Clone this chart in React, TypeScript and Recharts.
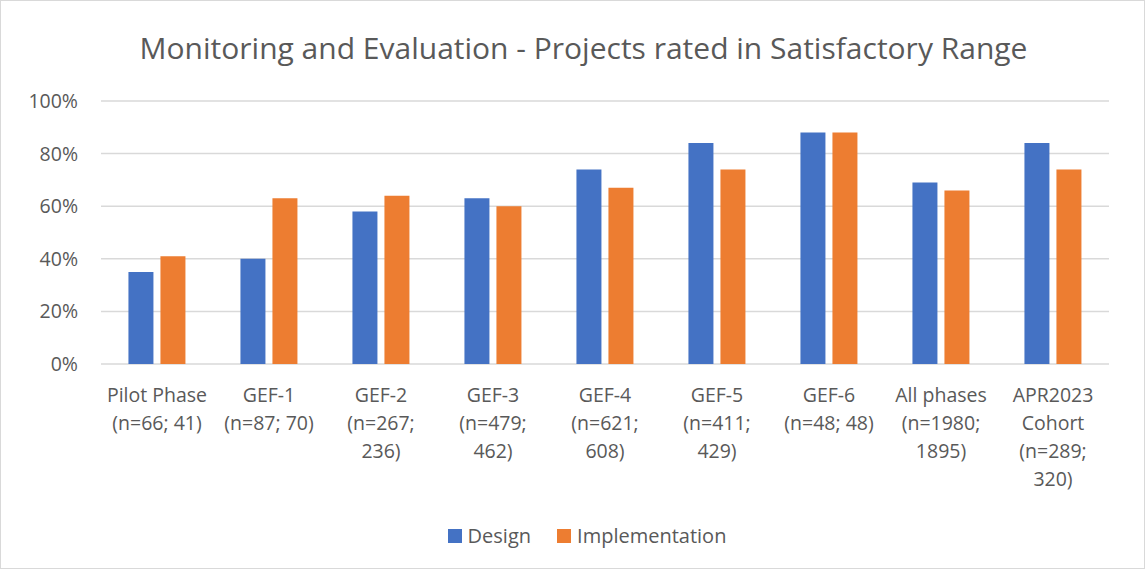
import React from "react";
import { BarChart, Bar, XAxis, YAxis, CartesianGrid } from "recharts";

const categories = [
  "Pilot Phase\n(n=66; 41)",
  "GEF-1\n(n=87; 70)",
  "GEF-2\n(n=267;\n236)",
  "GEF-3\n(n=479;\n462)",
  "GEF-4\n(n=621;\n608)",
  "GEF-5\n(n=411;\n429)",
  "GEF-6\n(n=48; 48)",
  "All phases\n(n=1980;\n1895)",
  "APR2023\nCohort\n(n=289;\n320)",
];
const designValues = [35, 40, 58, 63, 74, 84, 88, 69, 84];
const implementationValues = [41, 63, 64, 60, 67, 74, 88, 66, 74];
const yTicks = [0, 20, 40, 60, 80, 100];
const seriesNames = ["Design", "Implementation"];
const seriesColors = ["#4472C4", "#ED7D31"];

const data = categories.map((c, i) => ({
  name: c,
  Design: designValues[i],
  Implementation: implementationValues[i],
}));

const FONT = "'Open Sans', sans-serif";
const TEXT = "#595959";

const XTick = (props: any) => {
  const { x, y, payload } = props;
  const lines = String(payload.value).split("\n");
  return (
    <g transform={`translate(${x},${y})`}>
      {lines.map((l, i) => (
        <text
          key={i}
          x={0}
          y={i * 28}
          dy={18}
          textAnchor="middle"
          fill={TEXT}
          fontSize={19.5}
          fontFamily={FONT}
        >
          {l}
        </text>
      ))}
    </g>
  );
};

export default function App() {
  return (
    <div
      style={{
        position: "absolute",
        left: 0,
        top: 0,
        width: 1145,
        height: 569,
        background: "#fff",
        boxSizing: "border-box",
        border: "1px solid #d9d9d9",
        fontFamily: FONT,
      }}
    >
      <div
        style={{
          position: "absolute",
          top: 26,
          left: 0,
          width: 1165,
          textAlign: "center",
          fontSize: 30,
          lineHeight: "42px",
          color: TEXT,
          fontFamily: FONT,
        }}
      >
        Monitoring and Evaluation - Projects rated in Satisfactory Range
      </div>
      <div style={{ position: "absolute", left: 0, top: 0 }}>
        <BarChart
          width={1145}
          height={569}
          data={data}
          margin={{ top: 100, right: 37, left: 0, bottom: 0 }}
          barCategoryGap="24.5%"
          barGap={7}
        >
          <CartesianGrid vertical={false} stroke="#d9d9d9" strokeWidth={1.5} />
          <XAxis
            dataKey="name"
            axisLine={false}
            tickLine={false}
            interval={0}
            height={206}
            tick={<XTick />}
            tickMargin={14}
          />
          <YAxis
            domain={[0, 100]}
            ticks={yTicks}
            width={100}
            axisLine={false}
            tickLine={false}
            tickFormatter={(v: number) => `${v}%`}
            tick={{ fill: TEXT, fontSize: 19.5, fontFamily: FONT }}
            tickMargin={17}
          />
          <Bar dataKey="Design" fill={seriesColors[0]} isAnimationActive={false} />
          <Bar dataKey="Implementation" fill={seriesColors[1]} isAnimationActive={false} />
        </BarChart>
      </div>
      <div
        style={{
          position: "absolute",
          top: 520,
          left: 0,
          width: 1172,
          display: "flex",
          justifyContent: "center",
          alignItems: "center",
          gap: 26,
        }}
      >
        {seriesNames.map((n, i) => (
          <div key={n} style={{ display: "flex", alignItems: "center" }}>
            <span
              style={{
                width: 14,
                height: 14,
                background: seriesColors[i],
                display: "inline-block",
                marginRight: 6,
              }}
            />
            <span style={{ color: TEXT, fontSize: 20, lineHeight: "30px", fontFamily: FONT }}>{n}</span>
          </div>
        ))}
      </div>
    </div>
  );
}
